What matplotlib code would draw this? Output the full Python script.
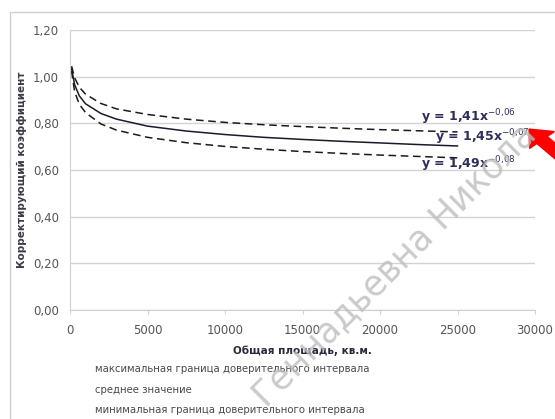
import matplotlib.pyplot as plt
from matplotlib.patches import Rectangle, FancyArrow
from matplotlib.ticker import FuncFormatter

# Значения
ploshad = [100, 300, 600, 1000, 2000, 3000, 5000, 7500, 10000, 12500, 15000, 17500, 20000, 22500, 25000]
max_granica = [1.045, 0.995, 0.955, 0.925, 0.885, 0.862, 0.838, 0.818, 0.804, 0.794, 0.786, 0.779, 0.773, 0.768, 0.763]
srednee = [1.035, 0.965, 0.918, 0.884, 0.842, 0.818, 0.788, 0.767, 0.752, 0.740, 0.731, 0.723, 0.716, 0.709, 0.703]
min_granica = [1.025, 0.935, 0.882, 0.846, 0.797, 0.771, 0.740, 0.717, 0.701, 0.689, 0.679, 0.671, 0.664, 0.658, 0.652]

y_ticks = [0.0, 0.2, 0.4, 0.6, 0.8, 1.0, 1.2]
x_ticks = [0, 5000, 10000, 15000, 20000, 25000, 30000]
rownania = [('1,41', '-0{,}06'), ('1,45', '-0{,}07'), ('1,49', '-0{,}08')]
legenda = ['максимальная граница доверительного интервала',
           'среднее значение',
           'минимальная граница доверительного интервала']

plt.rcParams['font.family'] = ['DejaVu Sans']
fig = plt.figure(figsize=(5.55, 4.19), dpi=100)
W, H = 555, 419

# Рамка области диаграммы
fig.patches.append(Rectangle((10 / W, -0.05), 1.0, 1 - 12 / H + 0.05, transform=fig.transFigure,
                             fill=False, edgecolor='#cfcfcf', linewidth=1.0))

ax = fig.add_axes([70 / W, 1 - 310 / H, (535 - 70) / W, (310 - 30) / H])
ax.plot(ploshad, max_granica, color='#1a1a1a', linestyle=(0, (5, 3)), linewidth=1.1)
ax.plot(ploshad, srednee, color='#1a1a2a', linestyle='-', linewidth=1.1)
ax.plot(ploshad, min_granica, color='#1a1a1a', linestyle=(0, (5, 3)), linewidth=1.1)

ax.set_xlim(0, 30000)
ax.set_ylim(0, 1.2)
ax.set_xticks(x_ticks)
ax.set_yticks(y_ticks)
ax.yaxis.set_major_formatter(FuncFormatter(lambda v, p: f'{v:.2f}'.replace('.', ',')))
ax.grid(axis='y', color='#d2d2d8', linewidth=1.0)
ax.set_axisbelow(True)
for s in ['top', 'right']:
    ax.spines[s].set_visible(False)
ax.spines['left'].set_color('#d0d0d0')
ax.spines['bottom'].set_color('#d0d0d0')
ax.tick_params(axis='y', length=0, labelsize=8.5, labelcolor='#555555', pad=8)
ax.tick_params(axis='x', length=3, color='#d0d0d0', labelsize=8.5, labelcolor='#555555', pad=7)

ax.set_ylabel('Корректирующий коэффициент', fontsize=7.5, fontweight='bold', color='#3a3a4a', labelpad=4)
ax.set_xlabel('Общая площадь, кв.м.', fontsize=7.5, fontweight='bold', color='#2a2a3a', labelpad=6)

# Уравнения линий тренда
for (tx, ty), (k, p) in zip([(468, 117), (482, 137), (468, 164)], rownania):
    fig.text(tx / W, 1 - ty / H, 'y = ' + k + 'x$^{' + p + '}$', fontsize=9, fontweight='bold',
             color='#2e2e5e', ha='center', va='center')

# Подписи легенды
for i, t in enumerate(legenda):
    fig.text(95 / W, 1 - (369 + 20.5 * i) / H, t, fontsize=7.3, color='#4a4a4a', va='center')

# Водяной знак
fig.text(395 / W, 1 - 265 / H, 'Геннадьевна Никола', fontsize=25, color='#bdbdbd',
         rotation=45, ha='center', va='center', alpha=0.8)

# Красная стрелка
fig.patches.append(FancyArrow(580 / W, 1 - 172 / H, -38 / W, 32 / H, transform=fig.transFigure,
                              width=0.025, head_width=0.06, head_length=0.035, color='red'))

plt.savefig('out.png', dpi=100)
plt.close()
